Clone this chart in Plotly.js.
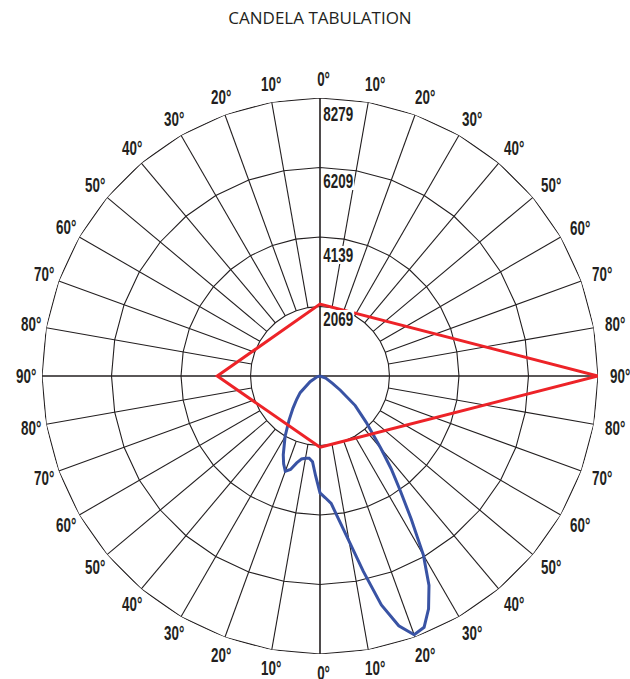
<!DOCTYPE html>
<html>
<head>
<meta charset="utf-8">
<script src="https://cdn.plot.ly/plotly-3.0.1.min.js"></script>
<style>html,body{margin:0;padding:0;background:#fff;}#chart{width:630px;height:679px;}</style>
</head>
<body>
<div id="chart"></div>
<script>
// ---- data ----
const ringValues = [2069, 4139, 6209, 8279];
const angleTicks = [0,10,20,30,40,50,60,70,80,90,100,110,120,130,140,150,160,170,
                    180,190,200,210,220,230,240,250,260,270,280,290,300,310,320,330,340,350];
const angleTickLabels = ['0°','10°','20°','30°','40°','50°','60°','70°','80°','90°','80°','70°','60°','50°','40°','30°','20°','10°',
                         '0°','10°','20°','30°','40°','50°','60°','70°','80°','90°','80°','70°','60°','50°','40°','30°','20°','10°'];
// vertical angle from nadir (negative = left side), candela
const blueAngles  = [-90,-75,-60,-50,-45,-40,-35,-30,-25,-22.5,-20,-17.5,-15,-12.5,-10,-7.5,-5,-2.5,0,
                     2.5,5,7.5,10,12.5,15,17.5,20,22.5,25,27.5,30,32.5,35,37.5,40,45,50,55,60,70,90];
const blueCandela = [0,90,340,770,980,1250,1610,2080,2590,2830,3020,2920,2680,2530,2490,2470,2560,2980,3480,
                     3630,3810,4320,5000,5960,7060,7800,8200,8100,7650,7030,6160,5060,4170,3480,2830,1940,1370,740,420,180,0];
const redAngles  = [0, 90, 180, 270, 360];
const redCandela = [2120, 8279, 2140, 3060, 2120];

// ---- layout geometry ----
const W = 630, H = 679, cx = 320, cy = 376, R = 278;
const rMax = ringValues[ringValues.length - 1];
const labelDy = [12, 18, 13, 16];      // radial labels: px below each ring
const angLabelR = 297;                 // angular labels: px from centre
const degShift = 3;                    // degree sign hangs to the right
const ink = '#231f20';
const fontNarrow = '"Liberation Sans", Arial, sans-serif';
const squeeze = 0.67;

// ---- grid traces ----
const ringTheta = [], ringR = [];
ringValues.forEach(v => {
  for (let a = 0; a <= 360; a += 10) { ringTheta.push(a); ringR.push(v); }
  ringTheta.push(null); ringR.push(null);
});
const spokeTheta = [], spokeR = [];
angleTicks.forEach(a => {
  if (a % 90 === 0) return;
  spokeTheta.push(a, a, null);
  spokeR.push(ringValues[0], rMax, null);
});
const axisTheta = [0, 0, 180, null, 90, 90, 270];
const axisR = [rMax, 0, rMax, null, rMax, 0, rMax];

const traces = [
  {type:'scatterpolar', mode:'lines', theta:ringTheta, r:ringR, line:{color:ink, width:1.1}, hoverinfo:'skip', cliponaxis:false, showlegend:false},
  {type:'scatterpolar', mode:'lines', theta:spokeTheta, r:spokeR, line:{color:ink, width:1.1}, hoverinfo:'skip', cliponaxis:false, showlegend:false},
  {type:'scatterpolar', mode:'lines', theta:axisTheta, r:axisR, line:{color:ink, width:1.6}, hoverinfo:'skip', cliponaxis:false, showlegend:false},
  {type:'scatterpolar', mode:'lines', theta:blueAngles, r:blueCandela, line:{color:'#3953a4', width:3}, cliponaxis:false, showlegend:false},
  {type:'scatterpolar', mode:'lines', theta:redAngles, r:redCandela, line:{color:'#ed2328', width:3}, cliponaxis:false, showlegend:false}
];

const labelFont = {family:fontNarrow, size:20, color:ink, weight:'bold'};
const radialAnn = ringValues.map((v, i) => ({
  xref:'paper', yref:'paper',
  x:(cx + 18) / W, xanchor:'center',
  y:(H - (cy - v / rMax * R + labelDy[i])) / H, yanchor:'middle',
  text:String(v), showarrow:false, bgcolor:'#ffffff', borderpad:0,
  font:labelFont
}));
const angularAnn = angleTicks.map((a, i) => {
  const rad = a * Math.PI / 180;
  const px = cx + angLabelR * Math.sin(rad) + degShift;
  const py = cy + angLabelR * Math.cos(rad);
  return {
    xref:'paper', yref:'paper', x:px / W, y:(H - py) / H, xanchor:'center', yanchor:'middle',
    text:angleTickLabels[i], showarrow:false, font:labelFont, borderpad:0
  };
});

const layout = {
  width:W, height:H,
  margin:{l:0, r:0, t:0, b:0},
  paper_bgcolor:'#ffffff',
  title:{text:'CANDELA TABULATION', x:cx / W, xanchor:'center', xref:'paper', y:(H - 18) / H, yanchor:'middle', yref:'container',
         font:{family:'"Open Sans", "Noto Sans", sans-serif', size:17, color:ink}},
  showlegend:false,
  annotations:radialAnn.concat(angularAnn),
  polar:{
    domain:{x:[(cx - R) / W, (cx + R) / W], y:[(H - cy - R) / H, (H - cy + R) / H]},
    bgcolor:'#ffffff',
    radialaxis:{range:[0, rMax], visible:false, showgrid:false, showline:false, showticklabels:false, ticks:''},
    angularaxis:{rotation:-90, direction:'counterclockwise', tickmode:'array', tickvals:angleTicks,
                 showgrid:false, showline:false, showticklabels:false, ticks:''}
  }
};

Plotly.newPlot('chart', traces, layout, {staticPlot:true, displayModeBar:false}).then(gd => {
  // condense the label glyphs (the source uses a condensed typeface)
  gd.querySelectorAll('.annotation-text').forEach(t => {
    const L = t.getComputedTextLength();
    t.setAttribute('textLength', (L * squeeze).toFixed(2));
    t.setAttribute('lengthAdjust', 'spacingAndGlyphs');
  });
  gd.querySelectorAll('.annotation').forEach(a => {
    const t = a.querySelector('.annotation-text');
    const r = a.querySelector('rect.bg');
    if (!t || !r) return;
    const b = t.getBBox();
    r.setAttribute('x', b.x - 1);
    r.setAttribute('width', b.width + 2);
    r.setAttribute('y', b.y + 2);
    r.setAttribute('height', b.height - 4);
  });
});
</script>
</body>
</html>
